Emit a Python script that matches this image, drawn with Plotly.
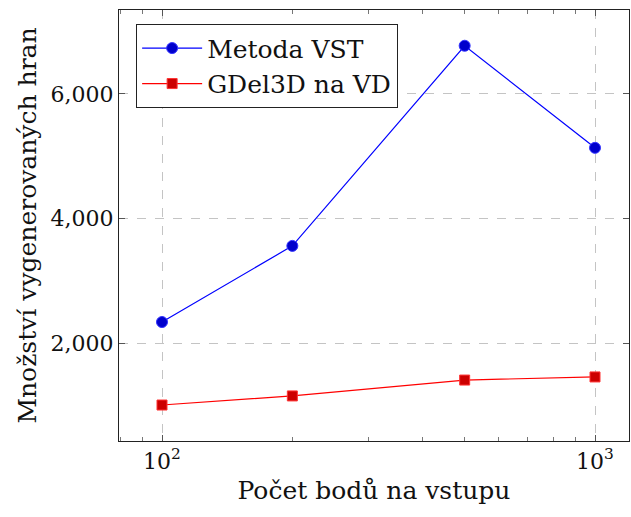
import plotly.graph_objects as go

points = [100, 200, 500, 1000]
metoda_vst = [2337, 3560, 6775, 5135]
gdel3d_vd = [1004, 1150, 1405, 1455]
series_names = ["Metoda VST", "GDel3D na VD"]
x_tickvals = [100, 1000]
x_ticktext = ["10<sup>2</sup>", "10<sup>3</sup>"]
y_tickvals = [2000, 4000, 6000]
x_title = "Počet bodů na vstupu"
y_title = "Množství vygenerovaných hran"

FONT = "'DejaVu Serif', serif"
fig = go.Figure()
fig.add_trace(go.Scatter(
    x=points, y=metoda_vst, name=series_names[0], mode="lines+markers",
    line=dict(color="#0000ff", width=1.2),
    marker=dict(symbol="circle", size=11, color="#0000cc",
                line=dict(color="#3333ff", width=1)),
))
fig.add_trace(go.Scatter(
    x=points, y=gdel3d_vd, name=series_names[1], mode="lines+markers",
    line=dict(color="#ff0000", width=1.2),
    marker=dict(symbol="square", size=10, color="#cc0000",
                line=dict(color="#ff3333", width=1)),
))

axis_common = dict(
    showline=True, linecolor="#222222", linewidth=1.3, mirror="allticks",
    ticks="inside", ticklen=6, tickcolor="#555555", tickwidth=1,
    showgrid=True, gridcolor="#c4c4c4", griddash="dash", gridwidth=1.2,
    zeroline=False,
    tickfont=dict(family=FONT, size=22, color="#111111"),
    title_font=dict(family=FONT, size=25, color="#111111"),
)

fig.update_xaxes(
    type="log", range=[1.9007, 3.0785],
    tickvals=x_tickvals, ticktext=x_ticktext,
    minor=dict(ticks="inside", ticklen=4, tickcolor="#777777",
               tickvals=[80, 90, 200, 300, 400, 500, 600, 700, 800, 900], showgrid=False),
    title_text=x_title, title_standoff=8,
    **axis_common,
)
fig.update_yaxes(
    range=[426, 7349], tickvals=y_tickvals, tickformat=",d",
    title_text=y_title, title_standoff=6,
    **axis_common,
)

fig.update_layout(
    width=631, height=517,
    margin=dict(l=119, r=2, t=10, b=76),
    plot_bgcolor="white", paper_bgcolor="white",
    font=dict(family=FONT, color="#111111"),
    legend=dict(
        x=0.033, y=0.9675, xanchor="left", yanchor="top",
        bgcolor="white", bordercolor="#222222", borderwidth=1.3,
        font=dict(family=FONT, size=25, color="#111111"),
        itemwidth=60, tracegroupgap=0,
    ),
    showlegend=True,
)

fig.write_html("out.html")
